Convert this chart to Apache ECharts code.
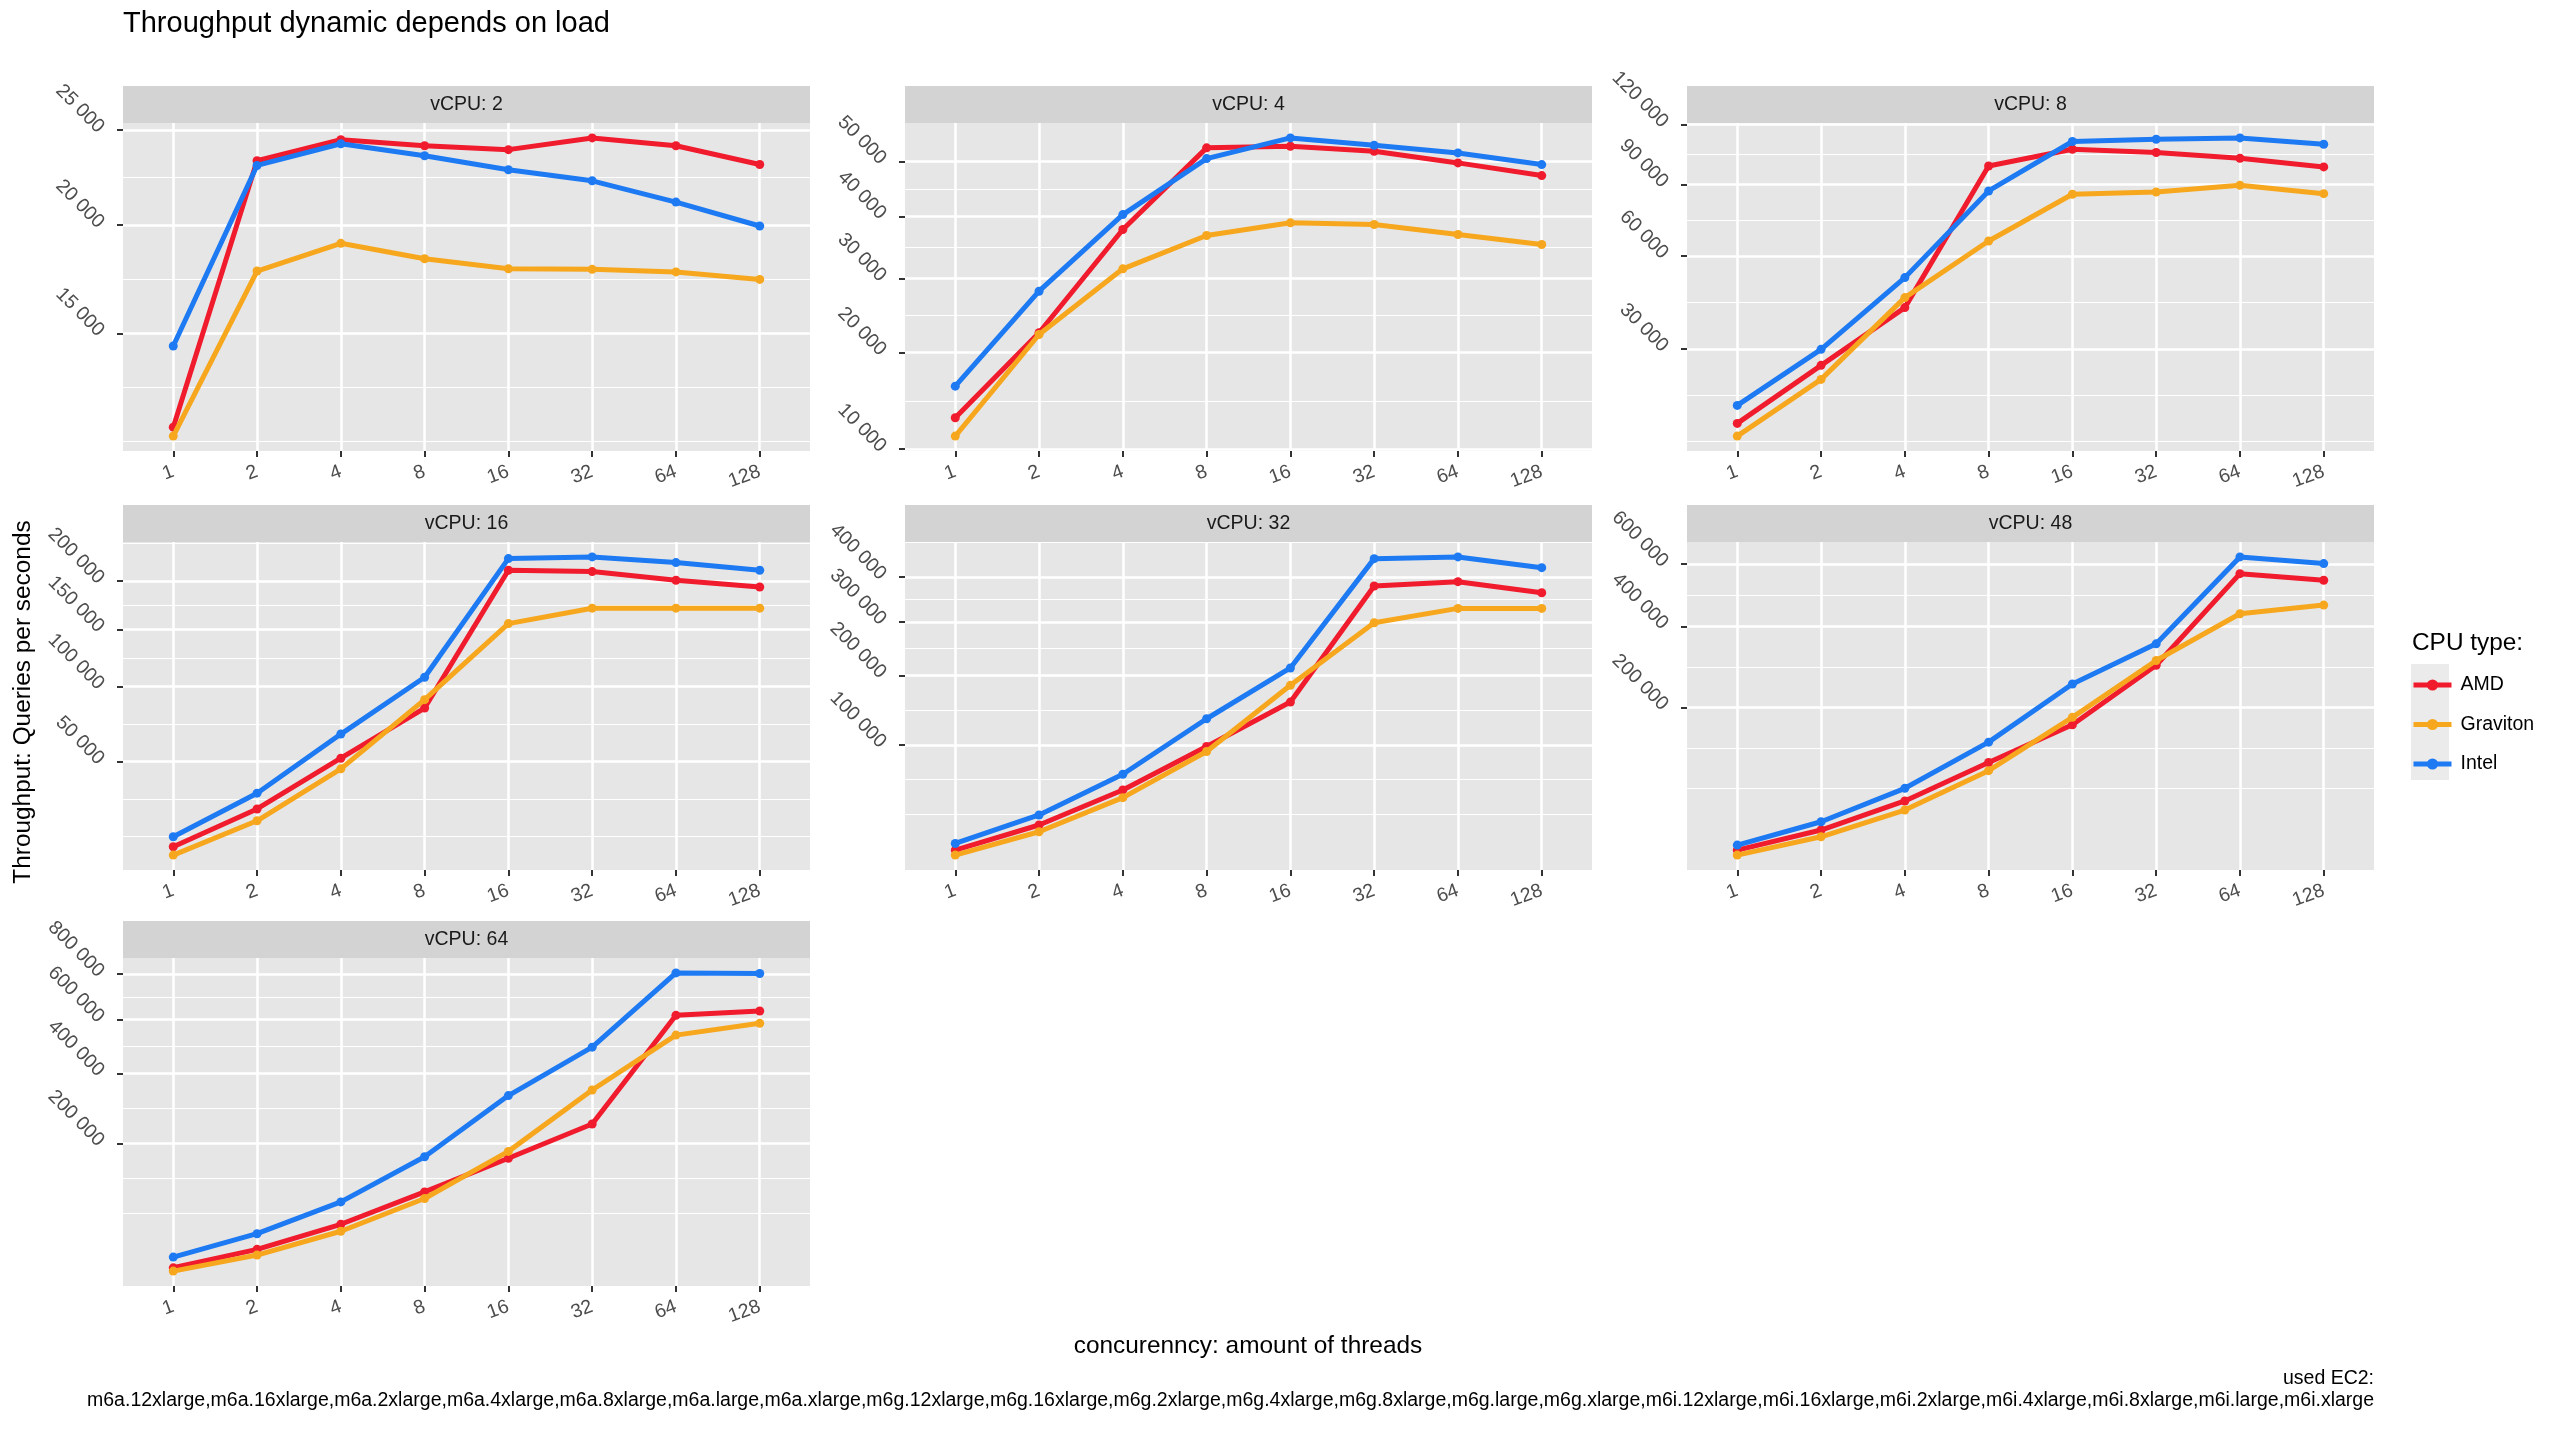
<!DOCTYPE html>
<html><head><meta charset="utf-8">
<script src="https://cdn.jsdelivr.net/npm/echarts@6/dist/echarts.min.js"></script>
<style>html,body{margin:0;padding:0;background:#fff}#c{width:2560px;height:1440px}</style>
</head><body><div id="c"></div><script>
// ---------- data ----------
const threads = ['1', '2', '4', '8', '16', '32', '64', '128'];
const cpuTypes = ['AMD', 'Graviton', 'Intel'];
const panelNames = ['vCPU: 2', 'vCPU: 4', 'vCPU: 8', 'vCPU: 16', 'vCPU: 32', 'vCPU: 48', 'vCPU: 64'];

const amdV2 = [11240, 23320, 24460, 24130, 23920, 24560, 24130, 23120];
const gravitonV2 = [10910, 17790, 19110, 18370, 17900, 17870, 17750, 17400];
const intelV2 = [14460, 23070, 24240, 23590, 22840, 22260, 21160, 19960];

const amdV4 = [12880, 22490, 37750, 52610, 52920, 51940, 49690, 47290];
const gravitonV4 = [11150, 22270, 31480, 36760, 38880, 38590, 36920, 35290];
const intelV4 = [16140, 28160, 40290, 50520, 54590, 53120, 51620, 49370];

const amdV8 = [13360, 25730, 42030, 98850, 107140, 105480, 102640, 98380];
const gravitonV8 = [11190, 22370, 45250, 65770, 85590, 86610, 89700, 85850];
const intelV8 = [16770, 29850, 52060, 87080, 111070, 112260, 112940, 109690];

const amdV16 = [13920, 27160, 51850, 83980, 212060, 210500, 200780, 193390];
const gravitonV16 = [11600, 22560, 46010, 90120, 155550, 170980, 170980, 170980];
const intelV16 = [17000, 34000, 66360, 107520, 225530, 227530, 220840, 212060];

const amdV32 = [13850, 27230, 53410, 97970, 157370, 378720, 388880, 363370];
const gravitonV32 = [11730, 23200, 46920, 92110, 183440, 298230, 328670, 328670];
const intelV32 = [16950, 33820, 67910, 133440, 212520, 444970, 449300, 422500];

const amdV48 = [14620, 27820, 54430, 103170, 166140, 295500, 567010, 544500];
const gravitonV48 = [11990, 22920, 45160, 91510, 180120, 307360, 437320, 464030];
const intelV48 = [17530, 34520, 68750, 135200, 250700, 351060, 626160, 602180];

const amdV64 = [13920, 27820, 54340, 101630, 166140, 248400, 617320, 635370];
const gravitonV64 = [11950, 23040, 46100, 90720, 181390, 345980, 537880, 584460];
const intelV64 = [21430, 43350, 85440, 169500, 328900, 492240, 806220, 803170];

const breaksV2 = [15000, 20000, 25000];
const breaksV4 = [10000, 20000, 30000, 40000, 50000];
const breaksV8 = [30000, 60000, 90000, 120000];
const breaksV16 = [50000, 100000, 150000, 200000];
const breaksV32 = [100000, 200000, 300000, 400000];
const breaksV48 = [200000, 400000, 600000];
const breaksV64 = [200000, 400000, 600000, 800000];

const titleText = 'Throughput dynamic depends on load';
const xTitle = 'concurenncy: amount of threads';
const yTitle = 'Throughput: Queries per seconds';
const legendTitle = 'CPU type:';
const captionLine1 = 'used EC2:';
const captionLine2 = 'm6a.12xlarge,m6a.16xlarge,m6a.2xlarge,m6a.4xlarge,m6a.8xlarge,m6a.large,m6a.xlarge,m6g.12xlarge,m6g.16xlarge,m6g.2xlarge,m6g.4xlarge,m6g.8xlarge,m6g.large,m6g.xlarge,m6i.12xlarge,m6i.16xlarge,m6i.2xlarge,m6i.4xlarge,m6i.8xlarge,m6i.large,m6i.xlarge';

// ---------- styling / layout ----------
const FONT = '"Liberation Sans", Arial, Helvetica, sans-serif';
const colors = { AMD: '#F01B2C', Graviton: '#F6A71E', Intel: '#1D7AF3' };
const panelData = [
  [amdV2, gravitonV2, intelV2, breaksV2],
  [amdV4, gravitonV4, intelV4, breaksV4],
  [amdV8, gravitonV8, intelV8, breaksV8],
  [amdV16, gravitonV16, intelV16, breaksV16],
  [amdV32, gravitonV32, intelV32, breaksV32],
  [amdV48, gravitonV48, intelV48, breaksV48],
  [amdV64, gravitonV64, intelV64, breaksV64]
];
const colLeft = [123, 905, 1687];
const rowTop = [123, 542, 958];
const PW = 687, PH = 328, STRIP = 37;
const PANEL_BG = '#E6E6E6', STRIP_BG = '#D3D3D3';

function fmt(n) { return String(n).replace(/\B(?=(\d{3})+(?!\d))/g, ' '); }

const grids = [], xAxes = [], yAxes = [], series = [], graphics = [];

panelData.forEach((pd, i) => {
  const col = i % 3, row = Math.floor(i / 3);
  const left = colLeft[col], top = rowTop[row];
  grids.push({ left: left, top: top, width: PW, height: PH, show: true,
    backgroundColor: PANEL_BG, borderWidth: 0, containLabel: false, outerBoundsMode: 'none' });

  const all = [].concat(pd[0], pd[1], pd[2]).map(Math.sqrt);
  const lo = Math.min.apply(null, all), hi = Math.max.apply(null, all);
  const pad = (hi - lo) * 0.05;
  const ymin = lo - pad, ymax = hi + pad;
  const major = pd[3].map(Math.sqrt);
  const bd = major[1] - major[0];
  const ext = major.slice();
  if (ymin < major[0]) ext.unshift(major[0] - bd);
  if (ymax > major[major.length - 1]) ext.push(major[major.length - 1] + bd);
  const minor = [];
  for (let k = 0; k < ext.length - 1; k++) minor.push((ext[k] + ext[k + 1]) / 2);
  ext.forEach(v => { if (major.indexOf(v) < 0) minor.push(v); });
  const minorIn = minor.filter(v => v > ymin && v < ymax);

  xAxes.push({
    gridIndex: i, type: 'value', min: -0.6, max: 7.6, position: 'bottom',
    axisLine: { show: false },
    axisTick: { show: true, length: 6, customValues: [0, 1, 2, 3, 4, 5, 6, 7], lineStyle: { color: '#333333', width: 2 } },
    axisLabel: { show: true, customValues: [0, 1, 2, 3, 4, 5, 6, 7], rotate: 20, margin: 20,
      fontFamily: FONT, fontSize: 19.5, color: '#4D4D4D',
      formatter: v => threads[Math.round(v)] },
    splitLine: { show: true, lineStyle: { color: '#FFFFFF', width: 2.5 } },
    minorSplitLine: { show: false }
  });
  // minor grid axis
  yAxes.push({
    gridIndex: i, type: 'value', min: ymin, max: ymax, position: 'left',
    axisLine: { show: false },
    axisTick: { show: false, customValues: minorIn },
    axisLabel: { show: false, customValues: minorIn },
    splitLine: { show: true, lineStyle: { color: '#FFFFFF', width: 1.2 } }
  });
  // major axis
  yAxes.push({
    gridIndex: i, type: 'value', min: ymin, max: ymax, position: 'left',
    axisLine: { show: false },
    axisTick: { show: true, length: 6, customValues: major, lineStyle: { color: '#333333', width: 2 } },
    axisLabel: { show: true, customValues: major, rotate: -45, margin: 22,
      fontFamily: FONT, fontSize: 19.5, color: '#4D4D4D',
      formatter: v => fmt(Math.round(v * v)) },
    splitLine: { show: true, lineStyle: { color: '#FFFFFF', width: 2.5 } }
  });

  cpuTypes.forEach((name, s) => {
    series.push({
      type: 'line', name: name, xAxisIndex: i, yAxisIndex: 2 * i + 1,
      data: pd[s].map((v, k) => [k, Math.sqrt(v)]),
      symbol: 'circle', symbolSize: 9, showSymbol: true,
      lineStyle: { color: colors[name], width: 5 },
      itemStyle: { color: colors[name], borderWidth: 0 },
      emphasis: { disabled: true }, silent: true, z: 3 + s
    });
  });

  // strip
  graphics.push({ type: 'rect', shape: { x: left, y: top - STRIP, width: PW, height: STRIP },
    style: { fill: STRIP_BG }, silent: true });
  graphics.push({ type: 'text', x: left + PW / 2, y: top - STRIP / 2,
    style: { text: panelNames[i], font: '19.5px ' + FONT, fill: '#1A1A1A', align: 'center', verticalAlign: 'middle' } });
});

// texts
graphics.push({ type: 'text', x: 123, y: 24,
  style: { text: titleText, font: '29px ' + FONT, fill: '#000', align: 'left', verticalAlign: 'middle' } });
graphics.push({ type: 'text', x: 1248, y: 1346,
  style: { text: xTitle, font: '24.4px ' + FONT, fill: '#000', align: 'center', verticalAlign: 'middle' } });
graphics.push({ type: 'text', x: 23, y: 702, rotation: Math.PI / 2,
  style: { text: yTitle, font: '24.4px ' + FONT, fill: '#000', align: 'center', verticalAlign: 'middle' } });
graphics.push({ type: 'text', x: 2374, y: 1379,
  style: { text: captionLine1, font: '19.5px ' + FONT, fill: '#000', align: 'right', verticalAlign: 'middle' } });
graphics.push({ type: 'text', x: 2374, y: 1401,
  style: { text: captionLine2, font: '19.5px ' + FONT, fill: '#000', align: 'right', verticalAlign: 'middle' } });
graphics.push({ type: 'text', x: 2412, y: 643,
  style: { text: legendTitle, font: '24.4px ' + FONT, fill: '#000', align: 'left', verticalAlign: 'middle' } });
graphics.push({ type: 'rect', shape: { x: 2411, y: 664, width: 38, height: 116 },
  style: { fill: '#EBEBEB' }, silent: true, z: -1 });

const chart = echarts.init(document.getElementById('c'), null, { renderer: 'canvas', width: 2560, height: 1440 });
chart.setOption({
  animation: false,
  backgroundColor: '#FFFFFF',
  grid: grids,
  xAxis: xAxes,
  yAxis: yAxes,
  series: series,
  legend: {
    data: cpuTypes, orient: 'vertical', left: 2411, top: 675,
    itemWidth: 38, itemHeight: 14, itemGap: 19.5, padding: 0,
    lineStyle: { width: 5 },
    textStyle: { fontFamily: FONT, fontSize: 19.5, color: '#000', padding: [0, 0, 0, 4] },
    selectedMode: false
  },
  graphic: { elements: graphics },
  tooltip: { show: false }
});
</script></body></html>
